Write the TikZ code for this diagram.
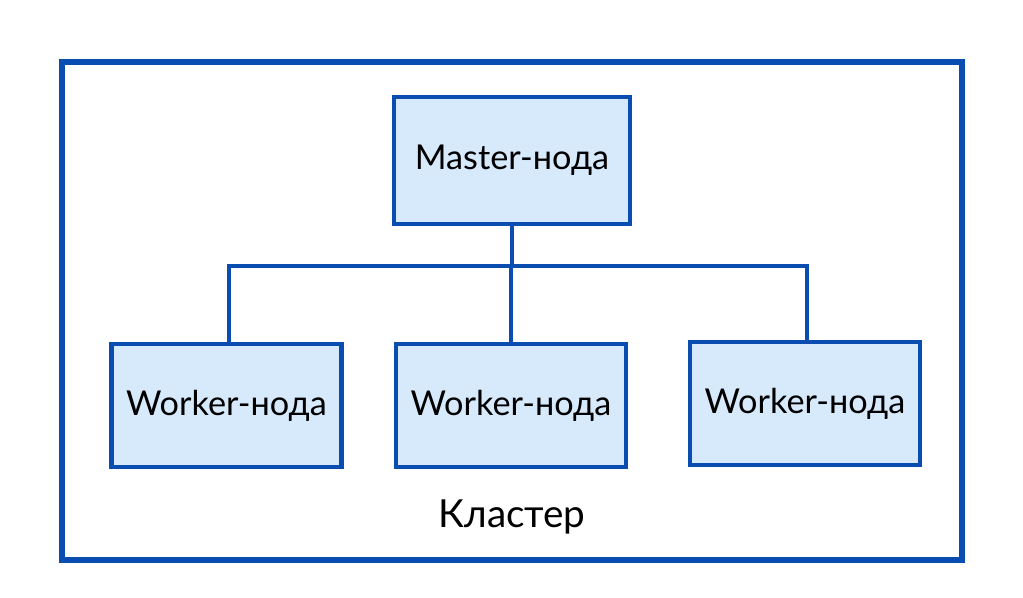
\documentclass[tikz,border=0pt]{standalone}
\usepackage{fontspec}
\setmainfont{Lato}
\definecolor{frameblue}{HTML}{0A4DB0}
\definecolor{boxfill}{HTML}{D7EAFC}
\tikzset{
  nodebox/.style={draw=frameblue, line width=2.4pt, fill=boxfill, minimum width=4.6cm, minimum height=2.46cm, font=\fontsize{19.5}{23}\selectfont},
  link/.style={draw=frameblue, line width=2.4pt}
}
\begin{document}
\begin{tikzpicture}
            \useasboundingbox (0,0) rectangle (20.46,11.94);
            \draw[frameblue, line width=3.4pt] (1.24,0.74) rectangle (19.24,10.70);  % cluster frame
            \node[nodebox, minimum width=4.72cm, minimum height=2.54cm] (master) at (10.24,8.73) {Master-нода};
            \node[nodebox] (worker1) at (4.53,3.83) {Worker-нода};
            \node[nodebox] (worker2) at (10.22,3.83) {Worker-нода};
            \node[nodebox] (worker3) at (16.10,3.87) {Worker-нода};
            \coordinate (bus) at (10.24,6.62);
            \draw[link] (master.south) -- (bus);
            \draw[link] (bus) -| ([xshift=0.05cm]worker1.north);
            \draw[link] (bus) -| (worker2.north);
            \draw[link] (bus) -| ([xshift=0.04cm]worker3.north);
            \node[font=\fontsize{22}{26}\selectfont] (cluster) at (10.24,1.6) {Кластер};
        \end{tikzpicture}
\end{document}
